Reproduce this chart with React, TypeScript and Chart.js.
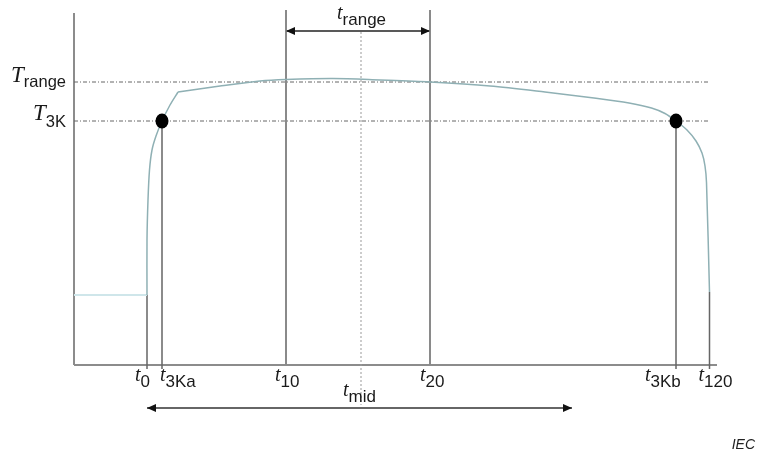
import React, { useEffect, useRef } from 'react';
import { Chart, registerables } from 'chart.js';
Chart.register(...registerables);

// ---- data (arbitrary schematic units) ----
const markerSubs = ['0', '3Ka', '10', '20', '3Kb', '120'];
const markerTimes = [14.6, 17.6, 42.4, 71.2, 120.4, 127.1];
const markerTops = [14, 48.8, 71, 71, 48.8, 14.6];
const markerLabelShift = [-12, -2, -11, -10, -31, -11]; // px, label start relative to line

const levelSubs = ['range', '3K'];
const levelValues = [56.6, 48.8];
const levelMainDy = [0, -1];
const levelSubDy = [5, 6];

const tMid = 57.4;
const tRangeArrow = [42.4, 71.2];
const tMidArrow = [14.6, 99.6];

const baseX = [0, 14.6];
const baseY = [14, 14];

const riseX = [14.6, 14.6, 14.8, 15.1, 15.6, 16.4, 17.6, 19.2, 20.8];
const riseY = [14, 25, 33, 39, 43, 45.8, 48.8, 52, 54.6];

const plateauX = [20.8, 29.2, 37.2, 42.4, 51.8, 61.2, 71.2, 83.2, 94.2, 104, 111, 115.5, 118.2, 120.4, 122.6, 124.4, 125.6, 126.2, 126.5, 127.1];
const plateauY = [54.6, 55.8, 56.8, 57.1, 57.3, 57.0, 56.6, 55.8, 54.6, 53.4, 52.4, 51.4, 50.3, 48.8, 47.0, 44.8, 42.4, 39.8, 36.5, 14.6];

const dotX = [17.6, 120.4];
const dotY = [48.8, 48.8];

const X_MAX = 128.6;
const Y_MAX = 71;
const Y_AXIS_TOP = 70.4;
const TICK_BELOW = -0.8;
const MID_TOP = 66.6;
const MID_BOTTOM = -8;
const RANGE_ARROW_Y = 66.8;
const MID_ARROW_Y = -8.6;

const pts = (xs: number[], ys: number[]) => xs.map((x, i) => ({ x, y: ys[i] }));

const CURVE = '#8fb0b4';
const SERIF = '"Liberation Serif", "DejaVu Serif", serif';
const SANS = '"Liberation Sans", Arial, sans-serif';

function drawSub(ctx: CanvasRenderingContext2D, main: string, sub: string, x: number, yMain: number, ySub: number, mainSize: number, subSize: number, align: 'left' | 'right' = 'left') {
  ctx.font = `italic ${mainSize}px ${SERIF}`;
  const wm = ctx.measureText(main).width;
  ctx.font = `${subSize}px ${SANS}`;
  const ws = ctx.measureText(sub).width;
  const start = align === 'left' ? x : x - wm - ws;
  ctx.textAlign = 'left';
  ctx.textBaseline = 'alphabetic';
  ctx.font = `italic ${mainSize}px ${SERIF}`;
  ctx.fillText(main, start, yMain);
  ctx.font = `${subSize}px ${SANS}`;
  ctx.fillText(sub, start + wm, ySub);
}

function arrowHead(ctx: CanvasRenderingContext2D, x: number, y: number, dir: number) {
  ctx.beginPath();
  ctx.moveTo(x, y);
  ctx.lineTo(x - dir * 9, y - 4);
  ctx.lineTo(x - dir * 9, y + 4);
  ctx.closePath();
  ctx.fill();
}

function ellipseDot(): HTMLCanvasElement {
  const c = document.createElement('canvas');
  c.width = 14; c.height = 16;
  const g = c.getContext('2d')!;
  g.fillStyle = '#000';
  g.beginPath();
  g.ellipse(7, 8, 6.5, 7.5, 0, 0, Math.PI * 2);
  g.fill();
  return c;
}

const annotations = {
  id: 'annotations',
  afterDatasetsDraw(chart: any) {
    const { ctx, scales } = chart;
    const xs = scales.x, ys = scales.y;
    const px = (v: number) => xs.getPixelForValue(v);
    const py = (v: number) => ys.getPixelForValue(v);
    ctx.save();
    ctx.fillStyle = '#111';
    arrowHead(ctx, px(tRangeArrow[0]), py(RANGE_ARROW_Y), -1);
    arrowHead(ctx, px(tRangeArrow[1]), py(RANGE_ARROW_Y), 1);
    arrowHead(ctx, px(tMidArrow[0]), py(MID_ARROW_Y), -1);
    arrowHead(ctx, px(tMidArrow[1]), py(MID_ARROW_Y), 1);
    ctx.fillStyle = '#1a1a1a';
    levelValues.forEach((v, i) => {
      const y = py(v);
      drawSub(ctx, 'T', levelSubs[i], 66, y + levelMainDy[i], y + levelSubDy[i], 23, 16.5, 'right');
    });
    const axisY = py(0);
    markerTimes.forEach((t, i) => {
      drawSub(ctx, 't', markerSubs[i], px(t) + markerLabelShift[i], axisY + 16, axisY + 22, 20, 17);
    });
    drawSub(ctx, 't', 'mid', px(tMid) - 18, axisY + 31, axisY + 37, 20, 17);
    drawSub(ctx, 't', 'range', px(tMid) - 24, py(RANGE_ARROW_Y) - 12, py(RANGE_ARROW_Y) - 6, 20, 17);
    ctx.font = `italic 14px ${SANS}`;
    ctx.textAlign = 'right';
    ctx.fillStyle = '#222';
    ctx.fillText('IEC', 755, 449);
    ctx.restore();
  },
};

export default function App() {
  const ref = useRef<HTMLCanvasElement>(null);
  useEffect(() => {
    if (!ref.current) return;
    const line = (data: any[], color: string, width: number, dash: number[] = [], extra: any = {}) => ({
      data, borderColor: color, borderWidth: width, borderDash: dash, pointRadius: 0, fill: false,
      tension: 0, clip: false, ...extra,
    });
    const dot = ellipseDot();
    const datasets: any[] = [
      { data: pts(dotX, dotY), showLine: false, pointRadius: 7, pointStyle: dot, clip: false },
      line(pts(riseX, riseY), CURVE, 1.5, [], { tension: 0.3 }),
      line(pts(plateauX, plateauY), CURVE, 1.5, [], { tension: 0.3 }),
      line(pts(baseX, baseY), '#cfe6ea', 2),
      ...markerTimes.map((t, i) => line([{ x: t, y: markerTops[i] }, { x: t, y: (i === 2 || i === 3) ? 0 : TICK_BELOW }],
        (i === 2 || i === 3) ? '#8a8a8a' : '#666', (i === 2 || i === 3) ? 2 : 1.5)),
      ...levelValues.map((v) => line([{ x: 0, y: v }, { x: markerTimes[5], y: v }], '#666', 1, [4, 2, 1, 2])),
      line([{ x: tMid, y: MID_TOP }, { x: tMid, y: MID_BOTTOM }], '#999', 1, [2, 2]),
      line([{ x: tRangeArrow[0], y: RANGE_ARROW_Y }, { x: tRangeArrow[1], y: RANGE_ARROW_Y }], '#222', 1.5),
      line([{ x: tMidArrow[0], y: MID_ARROW_Y }, { x: tMidArrow[1], y: MID_ARROW_Y }], '#333', 1.5),
      line([{ x: 0, y: Y_AXIS_TOP }, { x: 0, y: 0 }], '#8c8c8c', 2),
      line([{ x: 0, y: 0 }, { x: X_MAX, y: 0 }], '#8c8c8c', 2),
    ];
    const chart = new Chart(ref.current, {
      type: 'line',
      data: { datasets },
      options: {
        animation: false,
        responsive: false,
        devicePixelRatio: 1,
        layout: { padding: { left: 74, right: 41, top: 10, bottom: 88 } },
        plugins: { legend: { display: false }, tooltip: { enabled: false } },
        scales: {
          x: { type: 'linear', min: 0, max: X_MAX, display: false },
          y: { type: 'linear', min: 0, max: Y_MAX, display: false },
        },
      },
      plugins: [annotations],
    });
    return () => chart.destroy();
  }, []);
  return (
    <div style={{ position: 'absolute', left: 0, top: 0, width: 758, height: 453, background: '#fff' }}>
      <canvas ref={ref} width={758} height={453} style={{ display: 'block' }} />
    </div>
  );
}
